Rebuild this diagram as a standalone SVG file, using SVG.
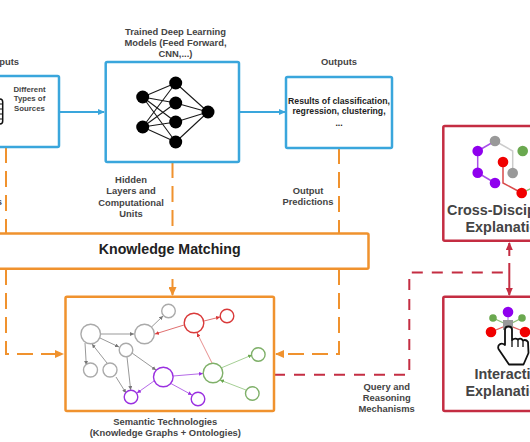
<svg xmlns="http://www.w3.org/2000/svg" width="530" height="442" viewBox="0 0 530 442">
<style>
text{font-family:"Liberation Sans",Arial,sans-serif;font-weight:700;fill:#444;font-size:9.400px;text-anchor:middle}
.box{fill:#fff;stroke-width:2.500;stroke-linejoin:round}
.b{stroke:#3aa6dc}.o{stroke:#f0922e}.r{stroke:#c42d42}
.c{fill:none;stroke-width:2}
.d{stroke-dasharray:16 8}
.dr{stroke-dasharray:11 9}
.nn{stroke:#1a1a1a;stroke-width:1.100;fill:none}
.e{fill:none;stroke-width:1}
.n{fill:#fff;stroke-width:1.400}
.big{font-size:14.400px;text-anchor:start}
.sm{font-size:7.800px}
.res{fill:#222;font-size:8.700px}
</style>
<defs>
<marker id="mb" markerWidth="8" markerHeight="8" refX="6" refY="3" orient="auto" markerUnits="userSpaceOnUse"><path d="M0 0L7 3L0 6Z" fill="#3aa6dc"/></marker>
<marker id="mo" markerWidth="10" markerHeight="8" refX="8" refY="4" orient="auto" markerUnits="userSpaceOnUse"><path d="M0 0L9 4L0 8Z" fill="#f0922e"/></marker>
<marker id="mr" markerWidth="10" markerHeight="8" refX="7" refY="3.500" orient="auto-start-reverse" markerUnits="userSpaceOnUse"><path d="M0 0L8 3.500L0 7Z" fill="#c42d42"/></marker>
<marker id="g1" markerWidth="5" markerHeight="4" refX="4" refY="2" orient="auto" markerUnits="userSpaceOnUse"><path d="M0 0L4 2L0 4Z" fill="#777"/></marker>
<marker id="r1" markerWidth="5" markerHeight="4" refX="4" refY="2" orient="auto" markerUnits="userSpaceOnUse"><path d="M0 0L4 2L0 4Z" fill="#d93a3a"/></marker>
<marker id="p1" markerWidth="5" markerHeight="4" refX="4" refY="2" orient="auto" markerUnits="userSpaceOnUse"><path d="M0 0L4 2L0 4Z" fill="#9a30e0"/></marker>
<marker id="v1" markerWidth="5" markerHeight="4" refX="4" refY="2" orient="auto" markerUnits="userSpaceOnUse"><path d="M0 0L4 2L0 4Z" fill="#6aa84f"/></marker>
</defs>
<rect width="530" height="442" fill="#fff"/>

<g id="connectors">
<path class="c b" d="M59 112H104" marker-end="url(#mb)"/>
<path class="c b" d="M239 112H285" marker-end="url(#mb)"/>
<path class="c o d" d="M6 147V234"/>
<path class="c o d" d="M172.500 162V234"/>
<path class="c o d" d="M339 148V234"/>
<path class="c o d" d="M6 269V354H63" marker-end="url(#mo)"/>
<path class="c o" d="M172.500 279V295" marker-end="url(#mo)"/>
<path class="c o d" d="M339 269V354H276" marker-end="url(#mo)"/>
<path class="c r dr" d="M274 374.700H409.300V272.500H509.500"/>
<path class="c r" d="M509.300 256V243" marker-end="url(#mr)"/>
<path class="c r" d="M509.300 263V295" marker-end="url(#mr)"/>
</g>

<g id="inputs">
<text x="19" y="64.700" style="text-anchor:end">Inputs</text>
<rect class="box b" x="-20" y="76" width="79" height="71" rx="1.500"/>
<path d="M-6 99H0Q2.700 99 2.700 102V121Q2.700 124 0 124H-6" fill="#fff" stroke="#111" stroke-width="1.500"/>
<path d="M-6 104H2.700M-6 109H2.700M-6 114H2.700M-6 119H2.700" stroke="#111" stroke-width="1.200"/>
<text class="sm" x="29.500" y="91.500">Different</text>
<text class="sm" x="29.500" y="101">Types of</text>
<text class="sm" x="29.500" y="110.500">Sources</text>
<text x="2" y="205" style="text-anchor:end">s</text>
</g>

<g id="models">
<text x="175.500" y="34.700">Trained Deep Learning</text>
<text x="175.500" y="46">Models (Feed Forward,</text>
<text x="175.500" y="57.300">CNN,...)</text>
<rect class="box b" x="105.700" y="62" width="133.300" height="100" rx="1.500"/>
<path class="nn" d="M142.700 97L175.700 83M142.700 97L175.700 103M142.700 97L175.700 122M142.700 97L175.700 142M142.700 127L175.700 83M142.700 127L175.700 103M142.700 127L175.700 122M142.700 127L175.700 142M175.700 83L208 112M175.700 103L208 112M175.700 122L208 112M175.700 142L208 112"/>
<g fill="#000"><circle cx="142.700" cy="97" r="6.500"/><circle cx="142.700" cy="127" r="6.500"/><circle cx="175.700" cy="83" r="6.500"/><circle cx="175.700" cy="103" r="6.500"/><circle cx="175.700" cy="122" r="6.500"/><circle cx="175.700" cy="142" r="6.500"/><circle cx="208" cy="112" r="6.500"/></g>
</g>

<g id="hidden-label">
<text x="131" y="182.700">Hidden</text>
<text x="131" y="194">Layers and</text>
<text x="131" y="205.500">Computational</text>
<text x="131" y="216.700">Units</text>
</g>

<g id="outputs">
<text x="339" y="64.700">Outputs</text>
<rect class="box b" x="286" y="77" width="106" height="71" rx="1.500"/>
<text class="res" x="339" y="103.500">Results of classification,</text>
<text class="res" x="339" y="114.300">regression, clustering,</text>
<text class="res" x="339" y="125.500">...</text>
</g>

<g id="output-predictions">
<text x="308" y="194">Output</text>
<text x="308" y="205.300">Predictions</text>
</g>

<g id="knowledge-matching">
<rect class="box o" x="-20" y="233.500" width="388.500" height="35.200" rx="1.500"/>
<text x="169.700" y="254" style="font-size:14.200px;fill:#222">Knowledge Matching</text>
</g>

<g id="semantic">
<rect class="box o" x="65.500" y="296.700" width="208.500" height="114.300" rx="1.500"/>
<path class="e" stroke="#999" d="M101 334H134" marker-end="url(#g1)"/>
<path class="e" stroke="#999" d="M151.500 327L163 316" marker-end="url(#g1)"/>
<path class="e" stroke="#999" d="M100 338L119 347" marker-end="url(#g1)"/>
<path class="e" stroke="#999" d="M85 343L86.300 365" marker-end="url(#g1)"/>
<path class="e" stroke="#999" d="M107 363L92 344" marker-end="url(#g1)"/>
<path class="e" stroke="#999" d="M116 377L126 393" marker-end="url(#g1)"/>
<path class="e" stroke="#999" d="M127 357L130.700 390" marker-end="url(#g1)"/>
<path class="e" stroke="#999" d="M132 353L156 370" marker-end="url(#g1)"/>
<path class="e" stroke="#e89090" d="M212 363L197 333" marker-end="url(#r1)"/>
<path class="e" stroke="#e07070" d="M184 325L155 334" marker-end="url(#r1)"/>
<path class="e" stroke="#e07070" d="M204 321L220 317" marker-end="url(#r1)"/>
<path class="e" stroke="#b56be8" d="M154 381L137 393" marker-end="url(#p1)"/>
<path class="e" stroke="#b56be8" d="M170 383L192 395" marker-end="url(#p1)"/>
<path class="e" stroke="#b56be8" d="M173 376L203 373.500" marker-end="url(#p1)"/>
<path class="e" stroke="#a5cf95" d="M221 368L252 355" marker-end="url(#v1)"/>
<path class="e" stroke="#a5cf95" d="M246 390L220 380" marker-end="url(#v1)"/>
<g stroke="#aaa" class="n">
<circle cx="90.700" cy="334" r="9.800"/><circle cx="144.500" cy="334" r="9.800"/><circle cx="168.500" cy="311" r="6.800"/><circle cx="126" cy="350" r="6.800"/><circle cx="90.500" cy="370" r="7"/><circle cx="110" cy="370" r="7"/>
</g>
<g stroke="#d93a3a" class="n"><circle cx="194" cy="323" r="9.800"/><circle cx="227" cy="316" r="6.800"/></g>
<g stroke="#9a30e0" class="n"><circle cx="163.300" cy="377" r="9.800"/><circle cx="131" cy="397" r="6.800"/><circle cx="198" cy="399" r="6.800"/></g>
<g stroke="#7fb069" class="n"><circle cx="213" cy="373" r="9.800"/><circle cx="258.300" cy="354.500" r="6.800"/><circle cx="252.300" cy="393.500" r="6.800"/></g>
<text x="165.300" y="424.700">Semantic Technologies</text>
<text x="165.300" y="436">(Knowledge Graphs + Ontologies)</text>
</g>

<g id="cross-disciplinary">
<rect class="box r" x="443.300" y="126" width="110" height="114.700" rx="1.500"/>
<path fill="none" stroke="#a94fe8" stroke-width="1.500" d="M495 183L477.700 172.700V151L495 141"/>
<path fill="none" stroke="#ccc" stroke-width="1.500" d="M495 141L512.700 151V173"/>
<path fill="none" stroke="#d94a4a" stroke-width="1.500" d="M503 162V183L521.700 193"/>
<path fill="none" stroke="#8fbf7a" stroke-width="1.500" d="M521.700 193L532 188"/>
<g fill="#8f00ee"><circle cx="477.700" cy="151" r="5.300"/><circle cx="477.700" cy="172.700" r="5.300"/><circle cx="495" cy="183" r="5.300"/></g>
<g fill="#999"><circle cx="495" cy="141" r="5.300"/><circle cx="512.700" cy="173" r="5.300"/></g>
<circle cx="522.700" cy="151" r="5.300" fill="#6aa84f"/>
<g fill="#f00000"><circle cx="503" cy="162" r="5.300"/><circle cx="521.700" cy="193" r="5.300"/></g>
<text class="big" x="447" y="215">Cross-Disciplinary</text>
<text class="big" x="465.500" y="232">Explanations</text>
</g>

<g id="interactive">
<rect class="box r" x="443.300" y="296.700" width="110" height="114.300" rx="1.500"/>
<path fill="none" stroke="#8fbf7a" stroke-width="1.300" d="M493 318L508 325L522 318"/>
<path fill="none" stroke="#b98ae8" stroke-width="1.300" d="M508 312V325"/>
<path fill="none" stroke="#e06060" stroke-width="1.300" d="M491 332L508 325L525 332"/>
<circle cx="508" cy="312" r="5.300" fill="#8f00ee"/>
<circle cx="493" cy="318" r="3.800" fill="#6aa84f"/><circle cx="522" cy="318" r="3.800" fill="#6aa84f"/>
<circle cx="491" cy="332" r="5.300" fill="#f00000"/><circle cx="525" cy="332" r="5.300" fill="#f00000"/>
<rect x="503" y="320" width="10" height="10" fill="#999"/>
<path fill="#fff" stroke="#111" stroke-width="1.800" stroke-linejoin="round" d="M505 345V330Q505 326.500 508.500 326.500Q512 326.500 512 330V340Q515 337.500 518 339.500Q521 337.500 523 340.500Q526 339 528 342L528.500 353L523.500 364.500H509L498.500 349Q497.500 346 499.500 344.500Q502 342.500 505 345Z"/>
<path fill="none" stroke="#111" stroke-width="1.300" d="M512 340V347M518 339.500V347M523 340.500V347"/>
<text class="big" x="474.500" y="379">Interactive</text>
<text class="big" x="465.500" y="396">Explanations</text>
</g>

<g id="query-label">
<text x="386.700" y="389.700">Query and</text>
<text x="386.700" y="401">Reasoning</text>
<text x="386.700" y="412.300">Mechanisms</text>
</g>
</svg>
